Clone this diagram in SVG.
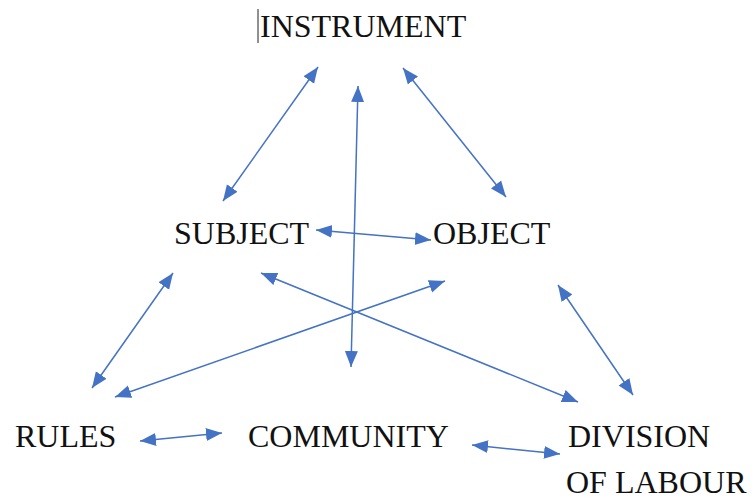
<svg xmlns="http://www.w3.org/2000/svg" width="752" height="500" viewBox="0 0 752 500">
<style>
.lbl{font-family:"Liberation Serif","Times New Roman",serif;font-size:32px;fill:#111}
.c{stroke:#4472C4;stroke-width:1.5;fill:none;marker-start:url(#ah);marker-end:url(#ah)}
</style>
<defs>
<marker id="ah" markerUnits="userSpaceOnUse" markerWidth="17" markerHeight="14" viewBox="0 0 17 14" refX="16" refY="7" orient="auto-start-reverse">
<path d="M0,0.5 L16,7 L0,13.5 Z" fill="#4472C4"/>
</marker>
</defs>
<rect width="752" height="500" fill="#fff"/>
<line x1="258" y1="9" x2="258" y2="43" stroke="#222" stroke-width="1"/>
<g id="instrument"><text class="lbl" x="260" y="37">INSTRUMENT</text></g>
<g id="subject"><text class="lbl" x="174" y="244">SUBJECT</text></g>
<g id="object"><text class="lbl" x="433" y="244">OBJECT</text></g>
<g id="rules"><text class="lbl" x="15" y="447">RULES</text></g>
<g id="community"><text class="lbl" x="248" y="447">COMMUNITY</text></g>
<g id="division"><text class="lbl" x="568" y="447">DIVISION</text><text class="lbl" x="566" y="493">OF LABOUR</text></g>
<g id="connectors">
<line class="c" x1="318" y1="67" x2="223" y2="201"/>
<line class="c" x1="358" y1="86" x2="351" y2="367"/>
<line class="c" x1="403" y1="68" x2="506" y2="197"/>
<line class="c" x1="316" y1="230" x2="431" y2="240"/>
<line class="c" x1="173" y1="273" x2="92" y2="388"/>
<line class="c" x1="115" y1="397" x2="445" y2="281"/>
<line class="c" x1="261" y1="273" x2="578" y2="402"/>
<line class="c" x1="558" y1="285" x2="633" y2="395"/>
<line class="c" x1="140" y1="441" x2="222" y2="433"/>
<line class="c" x1="472" y1="445" x2="560" y2="454"/>
</g>
</svg>
